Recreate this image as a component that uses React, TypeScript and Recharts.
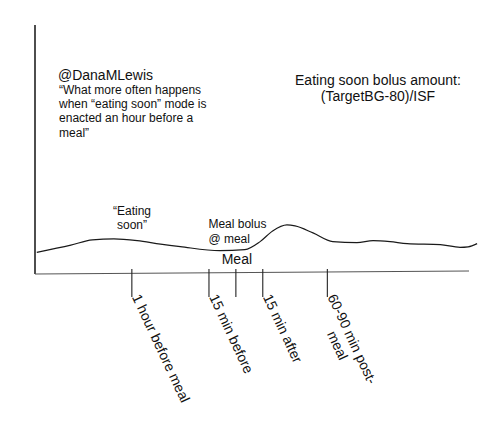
import React from 'react'
import { LineChart, Line, XAxis, YAxis, ReferenceLine, ReferenceDot } from 'recharts'

// glucose sketch, x = minutes around the meal (0), y = arbitrary BG level
const MINUTES = [-111, -92, -80, -68, -55, -42, -31, -9, 5, 13.5, 20.5, 28.5, 33, 43, 54, 67.5, 76.5, 86, 95.5, 114, 125, 129.5, 134.5]
const LEVEL = [8.7, 11.6, 13.7, 14.1, 13.4, 12.0, 11.0, 9.4, 9.8, 13.0, 17.3, 19.7, 19.3, 16.5, 13.0, 12.6, 13.4, 13.0, 12.2, 11.8, 10.7, 10.9, 12.2]

const TICK_MINUTES = [-58, -15, 0, 15, 51]
const TICK_LABELS = [['1 hour before meal'], ['15 min before'], ['Meal'], ['15 min after'], ['60-90 min post-', 'meal']]
const MEAL_MINUTE = 0

const NOTE_MINUTES = [-99.2, -98.6, 79.2, -57.9, -15.3]
const NOTE_LEVELS = [77.9, 72.3, 75.9, 23.7, 18.4]
const NOTE_LINES = [
  ['@DanaMLewis'],
  ['\u201cWhat more often happens', 'when \u201ceating soon\u201d mode is', 'enacted an hour before a', 'meal\u201d'],
  ['Eating soon bolus amount:', '(TargetBG-80)/ISF'],
  ['\u201cEating', 'soon\u201d'],
  ['Meal bolus', '@ meal'],
]

const FONT = '"Liberation Sans", Arial, sans-serif'
const INK = '#111'
const X_MIN = -112

const noteStyle = [
  { size: 14, anchor: 'start', lh: 14 },
  { size: 12, anchor: 'start', lh: 14.2 },
  { size: 14, anchor: 'middle', lh: 16 },
  { size: 12, anchor: 'middle', lh: 14 },
  { size: 12, anchor: 'start', lh: 15 },
]

const data = MINUTES.map((m, i) => ({ minute: m, level: LEVEL[i] }))

function NoteShape(props: any) {
  const { cx, cy, idx } = props
  const st = noteStyle[idx]
  return (
    <text x={cx} y={cy} fontSize={st.size} fontFamily={FONT} fill={INK} textAnchor={st.anchor}>
      {NOTE_LINES[idx].map((l, i) => (
        <tspan key={i} x={cx} dy={i === 0 ? 0 : st.lh}>{l}</tspan>
      ))}
    </text>
  )
}

function SketchTick(props: any) {
  const { x, y, payload } = props
  const i = TICK_MINUTES.indexOf(payload.value)
  const lines = TICK_LABELS[i] || []
  const tickEnd = y + 23
  return (
    <g>
      <line x1={x} y1={y - 5} x2={x} y2={tickEnd} stroke="#222" strokeWidth={1.1} />
      {payload.value === MEAL_MINUTE ? (
        <text x={x + 1} y={y - 10.5} fontSize={14} fontFamily={FONT} fill={INK} textAnchor="middle">{lines[0]}</text>
      ) : (
        <g transform={`translate(${x},${tickEnd}) rotate(65)`}>
          <text x={0} y={0} fontSize={14} fontFamily={FONT} fill={INK}>
            {lines.map((l, k) => (
              <tspan key={k} x={k === 0 ? 0 : 33} dy={k === 0 ? 0 : 16}>{l}</tspan>
            ))}
          </text>
        </g>
      )}
    </g>
  )
}

export default function App() {
  return (
    <div style={{ position: 'absolute', left: 0, top: 0, width: 503, height: 423, background: '#fff' }}>
      <LineChart width={503} height={423} data={data} margin={{ top: 25, right: 25, left: 35, bottom: 29 }}>
        <XAxis
          dataKey="minute"
          type="number"
          domain={[X_MIN, 135]}
          allowDataOverflow
          ticks={TICK_MINUTES}
          interval={0}
          axisLine={false}
          tickLine={false}
          tickSize={0}
          tickMargin={0}
          height={120}
          tick={<SketchTick />}
        />
        <YAxis type="number" domain={[0, 100]} hide />
        {/* hand drawn axes */}
        <ReferenceLine segment={[{ x: X_MIN, y: 0 }, { x: X_MIN, y: 100 }]} stroke="#3a3a3a" strokeWidth={1.8} />
        <ReferenceLine segment={[{ x: X_MIN, y: 0 }, { x: 130, y: 1.2 }]} stroke="#555" strokeWidth={1.2} />
        {NOTE_MINUTES.map((m, i) => (
          <ReferenceDot key={i} x={m} y={NOTE_LEVELS[i]} r={0} shape={(p: any) => <NoteShape {...p} idx={i} />} />
        ))}
        <Line dataKey="level" type="monotone" stroke="#1a1a1a" strokeWidth={1.2} dot={false} isAnimationActive={false} />
      </LineChart>
    </div>
  )
}
